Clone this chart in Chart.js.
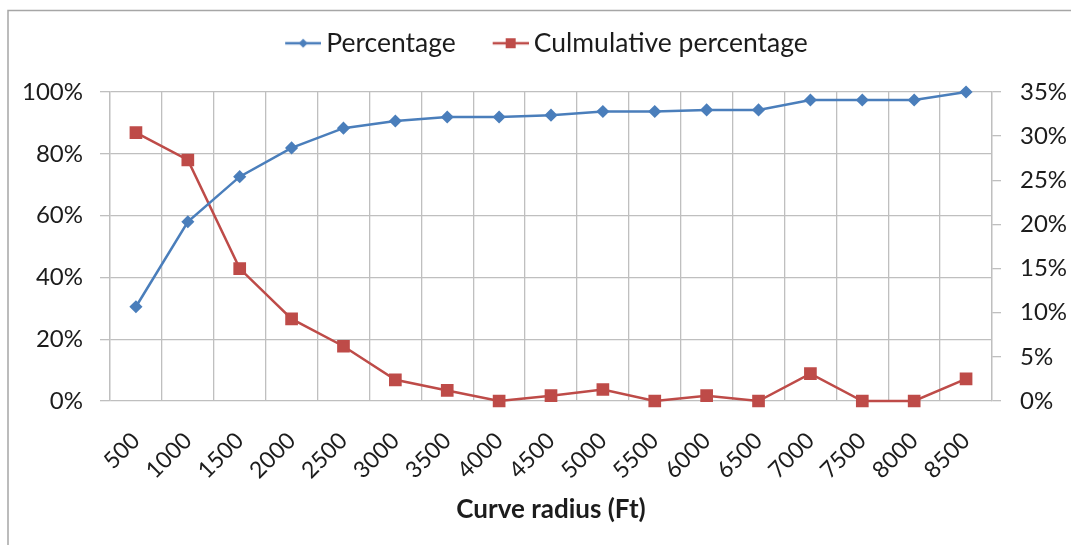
<!DOCTYPE html>
<html>
<head>
<meta charset="utf-8">
<script src="https://cdn.jsdelivr.net/npm/chart.js@4.4.1/dist/chart.umd.min.js"></script>
<style>
  html, body { margin: 0; padding: 0; background: #fff; }
  #wrap { width: 1071px; height: 545px; }
</style>
</head>
<body>
<div id="wrap"><canvas id="chart" width="1071" height="545"></canvas></div>
<script>
const radius = ['500','1000','1500','2000','2500','3000','3500','4000','4500',
  '5000','5500','6000','6500','7000','7500','8000','8500']
// blue line, left axis
const percentage = [30.5, 58.0, 72.6, 81.9, 88.3, 90.6, 91.9, 91.9, 92.5,
  93.7, 93.7, 94.2, 94.2, 97.4, 97.4, 97.4, 100]
// red line, right axis
const culmulative = [30.4, 27.3, 15.0, 9.3, 6.2, 2.4, 1.2, 0, 0.6,
  1.3, 0, 0.6, 0, 3.1, 0, 0, 2.5]

const leftTicks = [0, 20, 40, 60, 80, 100]
const rightTicks = [0, 5, 10, 15, 20, 25, 30, 35]

const blue = '#4A7EBB'
const red = '#BE4B48'
const grid = '#BFBFBF'
const ink = '#1c1c1c'

Chart.defaults.font.family = 'Lato'
Chart.defaults.color = ink

// legend marker: short line with the point shape in the middle
// (left part of the image is empty so the items sit further apart)
function legendIcon(color, shape) {
  const c = document.createElement('canvas')
  c.width = 53
  c.height = 14
  const g = c.getContext('2d')
  g.strokeStyle = color
  g.lineWidth = 2.5
  g.beginPath()
  g.moveTo(17, 7)
  g.lineTo(53, 7)
  g.stroke()
  g.fillStyle = color
  if (shape === 'diamond') {
    g.beginPath()
    g.moveTo(35, 2.5); g.lineTo(39.5, 7); g.lineTo(35, 11.5); g.lineTo(30.5, 7)
    g.closePath()
    g.fill()
  } else {
    g.fillRect(30, 2, 10, 10)
  }
  return c
}
const icons = [legendIcon(blue, 'diamond'), legendIcon(red, 'square')]

const framePlugin = {
  id: 'frame',
  beforeLayout(chart) {
    // leave a gap under the legend
    const lg = chart.legend
    if (lg && !lg._extra) {
      lg._extra = true
      const fit = lg.fit
      lg.fit = function() {
        fit.call(this)
        this.height += 25.5
      }
    }
  },
  beforeDraw(chart) {
    const ctx = chart.ctx
    ctx.save()
    ctx.fillStyle = '#fff'
    ctx.fillRect(0, 0, chart.width, chart.height)
    ctx.strokeStyle = '#A6A6A6'
    ctx.lineWidth = 1.5
    ctx.strokeRect(8, 10.5, 1200, 700)
    ctx.restore()
  }
}

const ctx = document.getElementById('chart')
new Chart(ctx, {
  type: 'line',
  data: {
    labels: radius,
    datasets: [{
      label: 'Percentage',
      data: percentage,
      yAxisID: 'y',
      borderColor: blue,
      backgroundColor: blue,
      borderWidth: 2.5,
      pointStyle: 'rectRot',
      pointRadius: 4.8,
      pointHoverRadius: 4.8,
      tension: 0,
      clip: false
    }, {
      label: 'Culmulative percentage',
      data: culmulative,
      yAxisID: 'y2',
      borderColor: red,
      backgroundColor: red,
      borderWidth: 2.5,
      pointStyle: 'rect',
      pointRadius: 7.2,
      pointHoverRadius: 7.2,
      tension: 0,
      clip: false
    }]
  },
  options: {
    responsive: false,
    animation: false,
    events: [],
    layout: { padding: { left: 13, right: 0, top: 2, bottom: 0 } },
    plugins: {
      tooltip: { enabled: false },
      legend: {
        position: 'top',
        labels: {
          font: { size: 26.5 },
          color: ink,
          usePointStyle: true,
          pointStyleWidth: 36.75,
          padding: 28,
          generateLabels: function(chart) {
            return chart.data.datasets.map(function(ds, i) {
              return {
                text: ds.label,
                pointStyle: icons[i],
                fillStyle: ds.borderColor,
                strokeStyle: ds.borderColor,
                lineWidth: 0,
                hidden: false,
                datasetIndex: i,
                fontColor: ink
              }
            })
          }
        }
      }
    },
    scales: {
      x: {
        offset: true,
        grid: { color: grid, lineWidth: 1.3, offset: true, drawTicks: false },
        border: { display: false },
        ticks: {
          font: { size: 23 },
          color: ink,
          minRotation: 45,
          maxRotation: 45,
          padding: 26
        },
        title: {
          display: true,
          text: 'Curve radius (Ft)',
          font: { size: 26, weight: 'bold' },
          color: ink,
          padding: { top: 4, bottom: 20 }
        },
        afterFit: function(s) { s.height = 144 }
      },
      y: {
        position: 'left',
        min: 0,
        max: 100,
        afterBuildTicks: function(s) { s.ticks = leftTicks.map(v => ({ value: v })) },
        grid: { color: grid, lineWidth: 1.3, tickLength: 10 },
        border: { color: grid, width: 1.3 },
        ticks: {
          font: { size: 24 },
          color: ink,
          padding: 17,
          callback: v => v + '%'
        },
        afterFit: function(s) { s.width = 97 }
      },
      y2: {
        position: 'right',
        min: 0,
        max: 35,
        afterBuildTicks: function(s) { s.ticks = rightTicks.map(v => ({ value: v })) },
        grid: { color: grid, lineWidth: 1.3, tickLength: 9, drawOnChartArea: false },
        border: { color: grid, width: 1.3 },
        ticks: {
          font: { size: 24 },
          color: ink,
          padding: 19,
          callback: v => v + '%'
        },
        afterFit: function(s) { s.width = 79 }
      }
    }
  },
  plugins: [framePlugin]
})
</script>
</body>
</html>
